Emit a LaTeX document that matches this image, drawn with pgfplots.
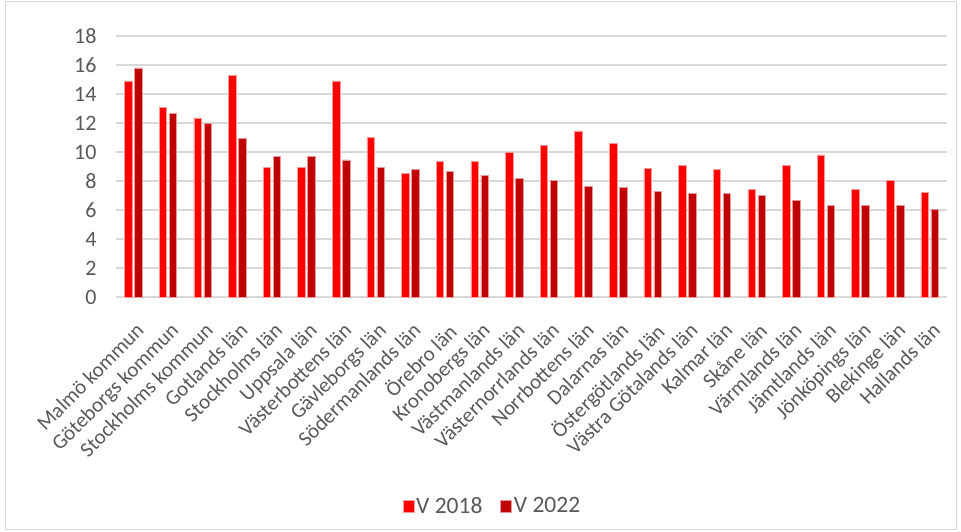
\documentclass[border=0pt]{standalone}
\usepackage{pgfplots}
\pgfplotsset{compat=1.18}
\usepackage{fontspec}
\setmainfont{Carlito}
\definecolor{txt}{HTML}{595959}
\definecolor{gridc}{HTML}{D9D9D9}
\definecolor{cA}{HTML}{FF0000}
\definecolor{cB}{HTML}{C00000}
\begin{document}
\begin{tikzpicture}[x=1pt,y=1pt]
\useasboundingbox (0,0) rectangle (961,531);
\draw[gridc, line width=1pt] (5,2) rectangle (956,529);
\begin{axis}[
  at={(116pt,234pt)}, anchor=south west,
  scale only axis, width=831pt, height=261pt,
  ybar=2.5pt, bar width=7.5pt,
  xmin=-0.5, xmax=23.5, ymin=0, ymax=18,
  ytick={0,2,...,18},
  xtick={0,...,23},
  xticklabels={Malmö kommun,Göteborgs kommun,Stockholms kommun,Gotlands län,Stockholms län,Uppsala län,Västerbottens län,Gävleborgs län,Södermanlands län,Örebro län,Kronobergs län,Västmanlands län,Västernorrlands län,Norrbottens län,Dalarnas län,Östergötlands län,Västra Götalands län,Kalmar län,Skåne län,Värmlands län,Jämtlands län,Jönköpings län,Blekinge län,Hallands län},
  axis line style={draw=none},
  major tick length=0pt,
  ymajorgrids, xmajorgrids=false, major grid style={draw=gridc, line width=1.5pt},
  tick label style={font=\fontsize{21}{24}\selectfont, text=txt},
  /pgf/number format/assume math mode=true,
  yticklabel style={xshift=-16pt, anchor=east, font=\fontsize{22}{24}\selectfont},
  xticklabel style={rotate=45, anchor=north east, xshift=-13pt, yshift=-15pt},
  legend style={at={(axis description cs:0.453,-0.80)}, anchor=center, draw=none,
    font=\fontsize{23.5}{26}\selectfont, text=txt, legend columns=2,
    /tikz/every even column/.append style={column sep=16pt}},
  legend image code/.code={\fill[#1] (0pt,-6pt) rectangle (11pt,6pt);},
]
\addplot[fill=cA, draw=white!60!cA, line width=0.5pt] coordinates {
(0,14.9)(1,13.1)(2,12.35)(3,15.3)(4,8.95)(5,8.95)(6,14.9)(7,11.0)(8,8.55)(9,9.35)(10,9.35)(11,9.95)(12,10.45)(13,11.45)(14,10.6)(15,8.85)(16,9.1)(17,8.8)(18,7.4)(19,9.1)(20,9.8)(21,7.4)(22,8.05)(23,7.2)};
\addplot[fill=cB, draw=white!60!cB, line width=0.5pt] coordinates {
(0,15.8)(1,12.65)(2,11.95)(3,10.95)(4,9.7)(5,9.7)(6,9.45)(7,8.95)(8,8.8)(9,8.65)(10,8.4)(11,8.2)(12,8.05)(13,7.65)(14,7.55)(15,7.3)(16,7.15)(17,7.15)(18,7.0)(19,6.65)(20,6.3)(21,6.3)(22,6.3)(23,6.05)};
\legend{V 2018, V 2022}
\end{axis}
\end{tikzpicture}
\end{document}
